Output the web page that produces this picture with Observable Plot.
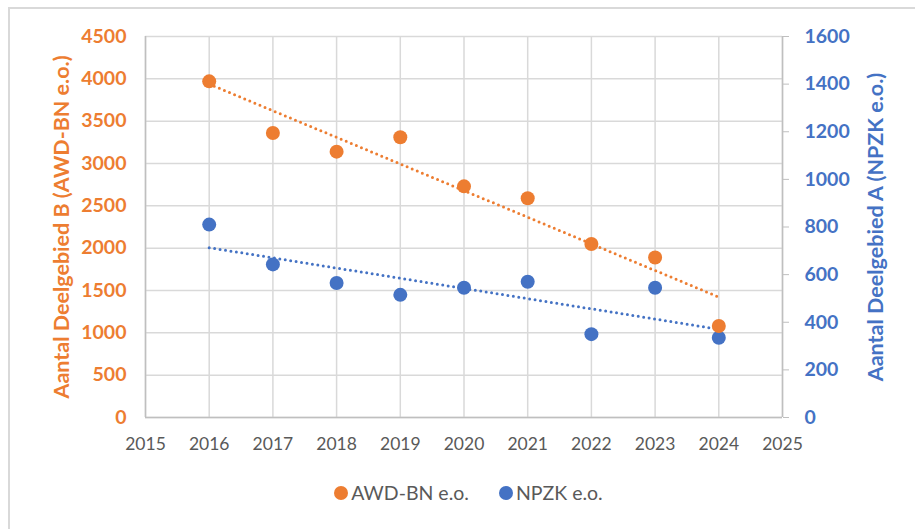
<!DOCTYPE html>
<html>
<head>
<meta charset="utf-8">
<script src="https://cdn.jsdelivr.net/npm/d3@7"></script>
<script src="https://cdn.jsdelivr.net/npm/@observablehq/plot@0.6"></script>
<style>
  html, body { margin: 0; padding: 0; background: #fff; }
  #wrap { position: relative; width: 915px; height: 529px; overflow: hidden; }
  #frame { position: absolute; left: 8px; top: 7px; right: -10px; bottom: -10px;
           border-top: 2px solid #d9d9d9; border-left: 2px solid #d9d9d9; }
  #chart { position: absolute; left: 0; top: 0; }
  #legend { position: absolute; top: 481px; left: 0; width: 915px; display: flex;
            justify-content: center; gap: 30px; padding-left: 22px; box-sizing: border-box;
            font-family: Lato, "Open Sans", sans-serif; font-size: 19.5px; color: #595959; }
  .item { display: flex; align-items: center; gap: 3px; }
  .sw { width: 14px; height: 14px; border-radius: 50%; display: inline-block; }
</style>
</head>
<body>
<div id="wrap">
  <div id="frame"></div>
  <div id="chart"></div>
  <div id="legend"></div>
</div>
<script>
const years = [2016, 2017, 2018, 2019, 2020, 2021, 2022, 2023, 2024];
const awdValues = [3970, 3360, 3140, 3310, 2730, 2590, 2050, 1890, 1080];
const npzkValues = [810, 643, 565, 515, 545, 570, 350, 545, 335];
const seriesNames = ["AWD-BN e.o.", "NPZK e.o."];
const xTicks = [2015, 2016, 2017, 2018, 2019, 2020, 2021, 2022, 2023, 2024, 2025];
const leftTicks = [0, 500, 1000, 1500, 2000, 2500, 3000, 3500, 4000, 4500];
const rightTicks = [0, 200, 400, 600, 800, 1000, 1200, 1400, 1600];
const leftTitle = "Aantal Deelgebied B (AWD-BN e.o.)";
const rightTitle = "Aantal Deelgebied A (NPZK e.o.)";

const ORANGE = "#ED7D31", BLUE = "#4472C4", GRID = "#d9d9d9", AXIS = "#bfbfbf", TEXT = "#595959";
const leftMax = 4500, rightMax = 1600;
const k = leftMax / rightMax;

const awd = years.map((x, i) => ({x, y: awdValues[i]}));
const npzk = years.map((x, i) => ({x, y: npzkValues[i] * k}));
const font = "Lato, 'Open Sans', sans-serif";

const plot = Plot.plot({
  width: 915,
  height: 470,
  marginLeft: 145,
  marginRight: 133,
  marginTop: 36,
  marginBottom: 53,
  style: {fontFamily: font, fontSize: "17px", background: "transparent", overflow: "visible"},
  x: {domain: [2015, 2025], type: "linear"},
  y: {domain: [0, leftMax]},
  marks: [
    Plot.gridX(xTicks, {stroke: GRID, strokeOpacity: 1, strokeWidth: 1.5}),
    Plot.gridY(leftTicks, {stroke: GRID, strokeOpacity: 1, strokeWidth: 1.5}),
    Plot.ruleX([2015], {stroke: AXIS, strokeWidth: 1.5}),
    Plot.ruleX([2025], {stroke: AXIS, strokeWidth: 1.5}),
    Plot.ruleY([0], {stroke: AXIS, strokeWidth: 1.5}),
    Plot.axisX(xTicks, {tickFormat: d => String(d), tickSize: 0, tickPadding: 20, fill: TEXT, fontSize: 17.5, label: null}),
    Plot.axisY(leftTicks, {anchor: "left", tickSize: 0, tickPadding: 19, fill: ORANGE, fontWeight: "bold", fontSize: 19.5,
      tickFormat: d => String(d), label: null}),
    Plot.axisY(rightTicks.map(v => v * k), {anchor: "right", tickSize: 6, tickPadding: 16, stroke: AXIS, fill: BLUE, fontWeight: "bold", fontSize: 19.5,
      tickFormat: d => String(Math.round(d / k)), label: null}),
    Plot.text([leftTitle], {text: d => d, frameAnchor: "left", dx: -83, rotate: -90, fill: ORANGE, fontWeight: "bold", fontSize: 21.5, textAnchor: "middle"}),
    Plot.text([rightTitle], {text: d => d, frameAnchor: "right", dx: 94, rotate: -90, fill: BLUE, fontWeight: "bold", fontSize: 21.5, textAnchor: "middle"}),
    Plot.linearRegressionY(awd, {x: "x", y: "y", stroke: ORANGE, ci: 0, strokeWidth: 3, strokeDasharray: "0 5.5", strokeLinecap: "round"}),
    Plot.linearRegressionY(npzk, {x: "x", y: "y", stroke: BLUE, ci: 0, strokeWidth: 3, strokeDasharray: "0 5.5", strokeLinecap: "round"}),
    Plot.dot(npzk, {x: "x", y: "y", r: 7, fill: BLUE}),
    Plot.dot(awd, {x: "x", y: "y", r: 7, fill: ORANGE})
  ]
});
document.getElementById("chart").appendChild(plot);

const legend = document.getElementById("legend");
[[seriesNames[0], ORANGE], [seriesNames[1], BLUE]].forEach(([name, c]) => {
  const it = document.createElement("div");
  it.className = "item";
  it.innerHTML = `<span class="sw" style="background:${c}"></span><span>${name}</span>`;
  legend.appendChild(it);
});
</script>
</body>
</html>
